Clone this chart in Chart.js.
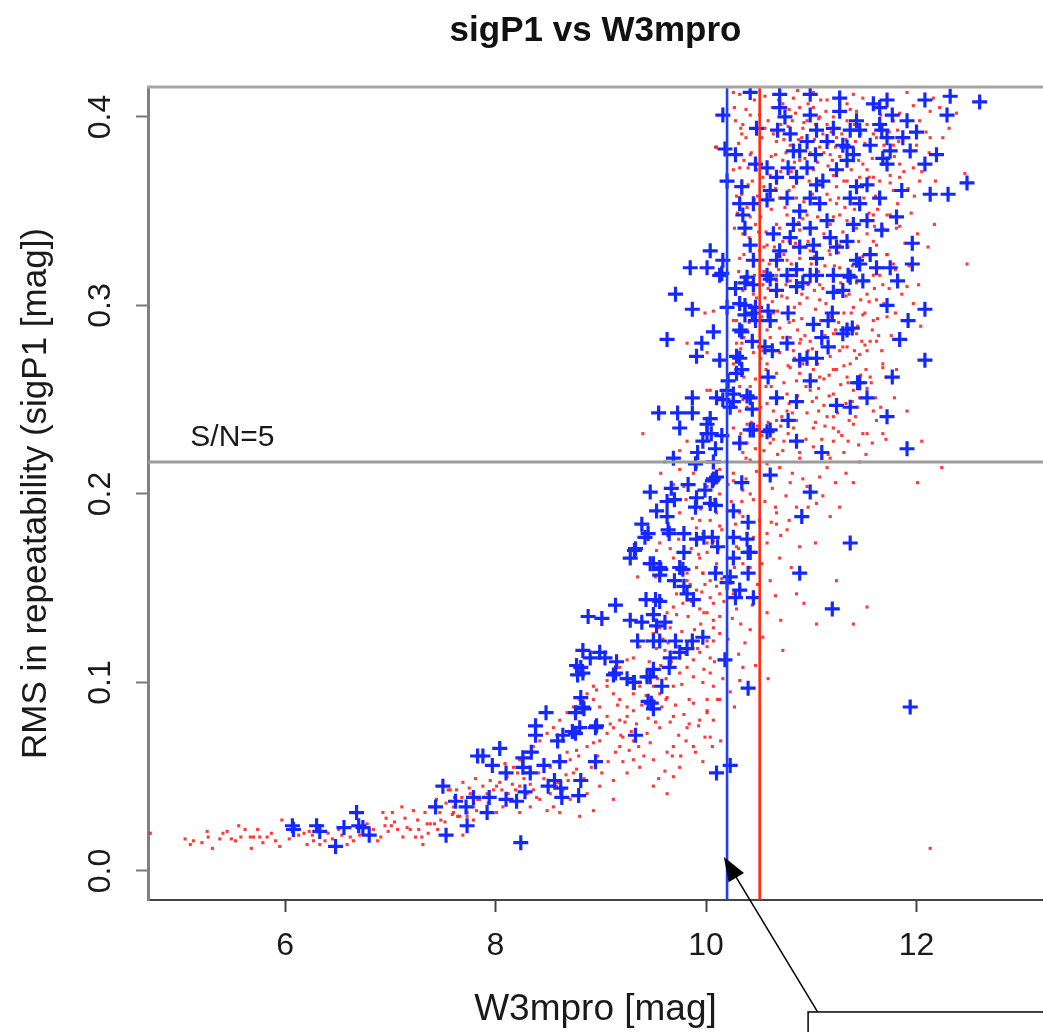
<!DOCTYPE html>
<html>
<head>
<meta charset="utf-8">
<title>sigP1 vs W3mpro</title>
<script src="https://cdn.jsdelivr.net/npm/chart.js@4.4.1/dist/chart.umd.min.js"></script>
<style>
    html, body { margin: 0; padding: 0; background: #ffffff; overflow: hidden; }
    #grafico { display: block; }
</style>
</head>
<body>
<canvas id="grafico" width="1043" height="1032"></canvas>
<script>
"use strict";

/********************************************************************
 * Dados (W3mpro [mag], sigP1 [mag])
 ********************************************************************/

// cruzes azuis
const pontosAzuis = [
    [6.07,0.024],[6.08,0.022],[6.30,0.024],[6.33,0.021],[6.48,0.013],[6.56,0.023],[6.68,0.031],[6.70,0.024],[6.74,0.023],[6.80,0.019],
    [7.50,0.045],[7.43,0.034],[7.62,0.037],[7.72,0.034],[7.79,0.039],[7.73,0.024],[7.53,0.019],[7.83,0.061],[7.94,0.039],[7.92,0.031],
    [8.10,0.038],[8.20,0.037],[8.28,0.042],[8.24,0.015],[8.62,0.044],[8.79,0.040],[7.88,0.061],[8.04,0.065],[7.97,0.056],[8.10,0.052],
    [8.26,0.060],[8.34,0.063],[8.46,0.056],[8.61,0.058],[8.56,0.048],[8.50,0.045],[8.81,0.048],[8.95,0.058],[8.48,0.084],[8.38,0.077],
    [8.38,0.072],[8.59,0.069],[8.76,0.073],[8.95,0.076],[9.33,0.072],[8.81,0.108],[8.83,0.105],[8.99,0.116],[9.15,0.111],[9.14,0.105],
    [9.32,0.100],[9.47,0.103],[9.65,0.108],[8.81,0.092],[8.84,0.086],[9.48,0.089],[9.14,0.141],[8.88,0.135],[9.01,0.134],[9.28,0.133],
    [9.43,0.144],[9.52,0.144],[9.53,0.130],[9.35,0.122],[9.50,0.122],[9.71,0.122],[9.87,0.122],[9.97,0.124],[9.56,0.143],[9.39,0.132],
    [9.50,0.136],[9.61,0.132],[9.56,0.122],[9.82,0.118],[9.66,0.113],[9.75,0.116],[8.83,0.117],[8.90,0.113],[9.04,0.113],[8.77,0.109],
    [8.78,0.104],[9.12,0.104],[9.25,0.102],[9.31,0.100],[9.44,0.103],[9.50,0.107],[9.58,0.098],[9.45,0.090],[9.50,0.086],[8.83,0.087],
    [8.76,0.084],[8.64,0.072],[8.73,0.074],[8.80,0.076],[8.96,0.077],[8.26,0.055],[8.33,0.052],[8.63,0.039],
    [10.10,0.052],[10.23,0.056],[10.18,0.112],[10.20,0.153],[10.09,0.158],[10.28,0.145],[9.78,0.160],[9.88,0.144],[9.82,0.147],[9.47,0.163],[9.56,0.161],
    [9.55,0.243],[9.73,0.243],[9.87,0.243],[9.75,0.235],[10.01,0.237],[9.97,0.228],[10.05,0.232],[10.09,0.224],[9.69,0.219],[9.90,0.216],
    [9.47,0.201],[9.67,0.203],[9.83,0.205],[9.99,0.202],[9.70,0.197],[9.90,0.193],[10.09,0.194],[9.39,0.184],[9.45,0.179],[9.65,0.179],
    [9.79,0.179],[9.32,0.170],[9.28,0.166],[9.50,0.163],[9.57,0.160],[9.70,0.154],[9.79,0.151],[9.75,0.161],
    [9.71,0.306],[9.87,0.298],[9.63,0.282],[9.96,0.280],[9.91,0.273],[10.07,0.286],[10.20,0.299],[10.32,0.287],[10.37,0.300],[10.44,0.296],
    [10.44,0.281],[10.13,0.271],[10.29,0.273],[10.34,0.266],[10.21,0.260],[10.20,0.255],[9.87,0.251],[10.10,0.251],[10.16,0.250],[10.26,0.249],
    [10.04,0.240],[9.92,0.222],[10.15,0.231],[10.32,0.227],[10.44,0.245],[10.42,0.234],[10.39,0.252],[10.06,0.207],[10.10,0.209],[10.34,0.206],
    [9.63,0.196],[9.53,0.191],[9.63,0.188],[9.91,0.198],[9.42,0.177],[9.64,0.181],[9.91,0.176],[10.06,0.177],[10.26,0.177],[10.39,0.176],
    [9.33,0.171],[9.79,0.169],[10.11,0.172],[10.26,0.166],[10.42,0.169],[9.56,0.157],[9.85,0.320],
    [10.16,0.401],[10.18,0.383],[10.28,0.380],[10.20,0.366],[10.04,0.329],[10.16,0.324],[10.01,0.320],[10.15,0.317],[10.32,0.354],[10.35,0.348],
    [10.37,0.341],[10.45,0.354],[10.42,0.332],[10.45,0.324],[10.39,0.315],[10.34,0.363],[10.48,0.394],[10.42,0.413],[10.47,0.375],[10.58,0.373],
    [10.61,0.361],[10.58,0.356],[10.67,0.368],[10.64,0.338],[10.70,0.329],[10.67,0.324],[10.61,0.314],[10.70,0.412],[10.70,0.405],[10.75,0.400],
    [10.80,0.391],[10.68,0.393],[10.83,0.382],[10.78,0.373],[10.86,0.368],[10.89,0.382],[10.77,0.357],[10.89,0.350],[10.83,0.343],[10.80,0.336],
    [10.89,0.331],[10.86,0.319],[10.99,0.412],[10.99,0.401],[11.05,0.393],[10.96,0.387],[11.04,0.380],[10.96,0.373],[11.05,0.364],[11.11,0.366],
    [10.99,0.357],[11.08,0.354],[10.99,0.341],[11.02,0.332],[11.05,0.325],[10.99,0.316],[11.15,0.345],[11.18,0.336],[11.21,0.316],[11.27,0.410],
    [11.27,0.403],[11.21,0.394],[11.15,0.387],[11.30,0.385],[11.34,0.377],[11.24,0.372],[11.37,0.393],[11.43,0.398],[11.40,0.380],[11.43,0.363],
    [11.37,0.357],[11.46,0.354],[11.40,0.343],[11.34,0.334],[11.24,0.331],[11.43,0.324],[11.49,0.313],[11.53,0.364],[11.56,0.385],[11.59,0.407],
    [11.65,0.405],[11.72,0.409],[11.65,0.396],[11.72,0.389],[11.75,0.382],[11.68,0.378],[11.72,0.375],[11.65,0.357],[11.53,0.345],[11.56,0.327],
    [11.62,0.320],[11.75,0.320],[11.77,0.401],
    [12.08,0.409],[12.32,0.411],[12.60,0.408],[12.29,0.401],[11.91,0.398],[12.00,0.392],[11.87,0.389],[11.94,0.382],[12.19,0.380],[12.08,0.375],
    [12.48,0.365],[12.13,0.359],[12.30,0.359],[11.86,0.361],[11.81,0.347],[11.67,0.340],[11.96,0.333],[11.46,0.322],[11.96,0.322],[11.35,0.316],
    [11.82,0.313],[11.30,0.308],[11.72,0.300],[12.08,0.298],[11.92,0.292],[11.39,0.288],[11.30,0.285],[11.84,0.282],[12.08,0.271],[11.44,0.259],
    [11.77,0.262],[11.67,0.393],[11.46,0.393],[11.34,0.384],
    [10.13,0.316],[10.28,0.309],[10.37,0.312],[10.45,0.311],[10.58,0.316],[10.67,0.308],[10.77,0.316],[10.86,0.310],[10.92,0.312],[11.05,0.316],
    [11.21,0.307],[11.37,0.315],[10.32,0.301],[10.47,0.299],[10.59,0.297],[10.78,0.296],[10.37,0.295],[10.47,0.292],[10.61,0.292],[11.02,0.290],
    [11.16,0.292],[11.20,0.296],[11.34,0.287],[10.34,0.286],[10.56,0.278],[10.63,0.276],[10.77,0.280],[10.89,0.271],[10.96,0.272],[11.05,0.272],
    [11.10,0.283],[11.16,0.278],[10.32,0.272],[10.29,0.264],[10.59,0.262],[10.99,0.260],[11.46,0.259],[10.26,0.253],[10.42,0.251],[10.67,0.251],
    [10.86,0.249],[11.24,0.247],[11.37,0.246],[11.53,0.251],[11.72,0.241],[10.23,0.246],[10.01,0.232],[10.45,0.234],[10.61,0.234],[10.78,0.239],
    [10.86,0.228],[11.10,0.222],[10.07,0.217],
    [11.91,0.224],[10.58,0.233],[10.07,0.208],[10.61,0.210],[10.99,0.201],[10.04,0.195],[10.26,0.191],[10.40,0.185],[10.91,0.188],[9.98,0.177],
    [10.40,0.169],[11.37,0.174],[10.23,0.156],[10.40,0.158],[10.89,0.158],[10.32,0.149],[10.45,0.145],[11.20,0.139],[10.40,0.097],[11.94,0.087]
];

// pontos vermelhos
const pontosVermelhos = [
    [4.72,0.020],[5.05,0.017],[5.10,0.014],[5.13,0.016],[5.26,0.021],[5.27,0.018],[5.31,0.012],[5.38,0.017],[5.45,0.021],[5.49,0.017],
    [5.56,0.024],[5.58,0.018],[5.62,0.022],[5.67,0.018],[5.68,0.012],[5.70,0.018],[5.76,0.018],[5.83,0.018],[5.79,0.015],[5.91,0.016],
    [5.95,0.013],[5.97,0.027],[6.13,0.019],[6.18,0.020],[6.21,0.014],[6.26,0.019],[6.33,0.014],[6.38,0.016],[6.45,0.017],[6.54,0.019],
    [6.62,0.018],[6.65,0.016],[6.78,0.025],[6.84,0.022],[6.88,0.016],[6.93,0.031],[6.95,0.024],[6.98,0.021],[7.02,0.031],[7.04,0.026],
    [7.07,0.022],[7.11,0.034],[7.12,0.018],[7.16,0.023],[7.19,0.022],[7.22,0.032],[7.24,0.018],[7.27,0.022],[7.30,0.018],[7.31,0.014],
    [7.35,0.025],[7.38,0.025],[7.42,0.025],[7.44,0.038],[7.45,0.022],[7.52,0.026],[7.55,0.043],[7.59,0.030],[7.60,0.034],[7.63,0.043],
    [7.64,0.029],[7.68,0.039],[7.69,0.019],[7.73,0.029],[7.79,0.027],[7.82,0.032],[7.83,0.038],[12.13,0.012],
    [5.21,0.015],[5.41,0.020],[5.53,0.016],[5.74,0.022],[5.87,0.020],[6.04,0.017],[6.09,0.023],[6.23,0.021],[6.41,0.020],[6.51,0.022],
    [6.59,0.014],[6.71,0.019],[6.91,0.018],[7.01,0.024],[7.14,0.028],[7.26,0.027],[7.36,0.020],[7.48,0.027],[6.27,0.016],[6.96,0.028],
    [7.95,0.048],[8.01,0.045],[8.06,0.043],[8.12,0.041],[8.19,0.043],[8.23,0.045],[8.30,0.041],[8.36,0.043],[8.39,0.039],[8.42,0.038],
    [8.52,0.041],[8.58,0.045],[8.64,0.043],[8.69,0.048],[8.74,0.052],[8.77,0.054],[8.71,0.059],[8.68,0.063],[8.77,0.064],[8.87,0.066],
    [8.93,0.068],[8.99,0.069],[9.06,0.073],[9.12,0.076],[9.18,0.080],[9.25,0.082],[9.31,0.085],[9.06,0.082],[8.99,0.087],[8.93,0.091],
    [8.96,0.096],[9.06,0.098],[9.12,0.094],[9.18,0.091],[9.25,0.087],[9.31,0.094],[9.37,0.098],[9.44,0.101],[9.50,0.098],[9.56,0.094],
    [9.63,0.092],[9.69,0.098],[9.75,0.105],[9.82,0.108],[9.88,0.112],[9.94,0.116],[10.01,0.119],[10.07,0.122],[10.13,0.126],[10.07,0.133],
    [10.01,0.137],[10.07,0.142],[10.13,0.147],[10.10,0.151],[10.04,0.154],[9.97,0.158],[9.91,0.161],[9.82,0.154],[9.72,0.147],[9.69,0.140],
    [9.63,0.137],[9.56,0.129],[9.50,0.126],[9.44,0.122],[9.37,0.119],[9.31,0.113],[9.25,0.112],[9.18,0.108],[9.12,0.105],[9.06,0.101],
    [8.93,0.098],[8.87,0.094],[8.80,0.091],[8.74,0.087],[8.68,0.084],[8.61,0.080],[8.55,0.076],[8.49,0.073],[8.42,0.069],[8.36,0.066],
    [8.30,0.063],[8.23,0.059],[8.17,0.055],[8.11,0.050],[8.04,0.047],[7.98,0.043],[7.92,0.041],[7.85,0.038],[7.79,0.034],[7.73,0.031],
    [7.66,0.029],[7.60,0.031],[7.57,0.043],[7.76,0.041],[8.07,0.034],[8.33,0.034],[8.55,0.034],[8.71,0.038],[8.87,0.041],[8.99,0.045],
    [9.12,0.048],[9.25,0.052],[9.37,0.055],[9.50,0.059],[9.63,0.063],[9.69,0.066],[9.82,0.076],[9.94,0.080],[10.01,0.084],[9.18,0.066],
    [9.31,0.069],[9.44,0.073],[9.56,0.076],[9.69,0.082],[9.88,0.089],[9.97,0.100],[10.04,0.105],[10.13,0.112],[9.31,0.059],[9.69,0.050],
    [9.75,0.055],[9.88,0.066],[9.50,0.045],[9.63,0.041],[9.12,0.038],[8.93,0.032],[8.80,0.029],[8.61,0.031],[8.49,0.032],[8.23,0.031],[8.01,0.031],
    [9.41,0.061],[9.47,0.068],[9.52,0.079],[9.58,0.087],[9.62,0.102],[9.67,0.111],[9.72,0.119],[9.77,0.127],[9.83,0.135],[9.86,0.143],
    [9.91,0.149],[9.95,0.131],[9.92,0.118],[9.88,0.103],[9.84,0.091],[9.79,0.083],[9.74,0.072],[9.68,0.061],[9.61,0.053],[9.55,0.049],
    [9.21,0.058],[9.27,0.064],[9.34,0.078],[9.39,0.088],[9.43,0.093],[9.46,0.111],[9.53,0.118],[9.59,0.123],[9.66,0.129],[9.72,0.136],
    [9.78,0.142],[9.85,0.152],[9.93,0.168],[9.97,0.179],[10.04,0.186],[10.08,0.197],[9.87,0.187],[9.81,0.197],[9.69,0.205],[9.57,0.211],
    [9.01,0.052],[9.07,0.058],[9.14,0.063],[9.21,0.071],[9.16,0.088],[9.09,0.078],[8.97,0.061],[8.91,0.055],[8.84,0.049],[8.79,0.061],
    [8.67,0.051],[8.59,0.047],[8.52,0.055],[8.46,0.049],[8.41,0.052],[8.33,0.046],[8.27,0.049],[8.21,0.052],[8.16,0.046],[8.09,0.057],
    [7.93,0.036],[7.88,0.045],[7.81,0.049],[7.75,0.044],[7.69,0.047],[7.61,0.039],[7.53,0.036],[7.47,0.031],[7.39,0.034],[7.33,0.031],
    [10.12,0.171],[10.15,0.181],[10.17,0.143],[10.16,0.102],[10.11,0.091],[10.14,0.069],[10.06,0.066],[9.99,0.071],[9.93,0.077],[9.97,0.058],
    [9.62,0.091],[9.66,0.079],[9.71,0.088],[9.77,0.099],[9.81,0.115],[9.85,0.122],[9.89,0.128],[9.94,0.139],[9.96,0.148],[9.99,0.152],
    [9.45,0.081],[9.49,0.091],[9.54,0.102],[9.57,0.109],[9.61,0.117],[9.64,0.121],[9.36,0.066],[9.29,0.074],[9.23,0.079],[9.19,0.072],
    [9.86,0.171],[9.91,0.182],[9.95,0.192],[10.03,0.207],[9.88,0.211],[9.79,0.204],[9.74,0.176],[9.66,0.171],[9.61,0.161],[9.52,0.156],
    [10.13,0.183],[10.15,0.155],[10.13,0.135],[10.08,0.111],[10.13,0.091],[10.04,0.071],[9.90,0.063],[9.81,0.069],[9.76,0.061],[9.84,0.078],
    [10.35,0.250],[10.58,0.248],[10.77,0.253],[10.99,0.255],[11.15,0.241],[11.21,0.235],[11.02,0.225],[11.18,0.219],[10.89,0.219],[10.73,0.223],
    [11.46,0.217],[11.49,0.232],[11.62,0.239],[11.91,0.244],[12.05,0.228],[12.24,0.214],[12.01,0.206],[11.40,0.206],[11.23,0.206],[11.15,0.214],
    [11.08,0.209],[10.96,0.204],[10.80,0.206],[10.70,0.214],[10.58,0.216],[10.42,0.218],[10.67,0.190],[10.77,0.181],[10.89,0.172],[10.86,0.193],
    [11.05,0.195],[11.18,0.188],[11.04,0.174],[11.24,0.154],[11.53,0.140],[11.40,0.131],[11.05,0.131],[10.86,0.147],[10.73,0.117],[10.58,0.137],
    [10.42,0.128],[10.61,0.154],[10.70,0.166],[10.58,0.174],[10.51,0.186],[10.35,0.188],[10.35,0.163],[10.26,0.147],[10.35,0.108],[10.32,0.101],
    [10.07,0.080],[10.01,0.085],[10.01,0.091],[10.07,0.098],[9.98,0.107],[10.04,0.113],[10.01,0.122],[10.07,0.129],[9.98,0.137],[10.04,0.145],
    [10.10,0.161],[10.01,0.169],[10.07,0.175],[10.32,0.177],[10.45,0.177],[10.45,0.197],[10.35,0.202],[10.26,0.207],[10.13,0.213],[10.67,0.184],[10.58,0.179],
    [10.21,0.205],[10.24,0.196],[10.28,0.184],[10.31,0.171],[10.27,0.161],[10.24,0.153],[10.29,0.139],[10.33,0.131],[10.37,0.121],[10.31,0.115],
    [10.44,0.141],[10.49,0.152],[10.53,0.163],[10.56,0.196],[10.63,0.203],[10.66,0.193],[10.71,0.178],[10.76,0.199],[10.82,0.211],[10.92,0.208],
    [10.97,0.193],[11.11,0.199],[11.27,0.193],[10.48,0.212],[10.38,0.208],[10.81,0.161],[10.93,0.142],[10.47,0.109],[10.54,0.124],[10.66,0.146],
    [10.23,0.095],[10.27,0.087],[10.21,0.123],[10.25,0.134],[10.34,0.196],[10.62,0.185],[10.79,0.186],[11.33,0.211],[10.71,0.133],[10.59,0.102],
    [9.82,0.280],[9.99,0.296],[10.01,0.255],[9.40,0.232],[9.82,0.228],[9.75,0.223],[9.61,0.217],[9.75,0.213],[9.91,0.214],[10.07,0.214],
    [10.01,0.204],[10.13,0.200],[9.75,0.190],[9.94,0.186],[10.10,0.190],[9.82,0.179],[10.01,0.174],[9.56,0.174],[9.53,0.170],[9.69,0.166],
    [9.94,0.166],[10.10,0.163],[9.35,0.156],[9.82,0.158],[9.97,0.158],[10.32,0.257],[10.39,0.237],[10.35,0.222],[10.26,0.211],[10.42,0.200],
    [10.32,0.190],[10.39,0.179],[10.29,0.172],[10.42,0.161],[10.26,0.269],[10.34,0.280],[10.29,0.292],
    [10.26,0.413],[10.56,0.411],[10.63,0.405],[10.59,0.398],[10.53,0.389],[10.42,0.380],[10.40,0.373],[10.32,0.373],[10.54,0.368],[10.66,0.380],
    [10.73,0.377],[10.82,0.398],[10.89,0.405],[10.92,0.394],[10.96,0.398],[11.04,0.396],[11.08,0.400],[11.15,0.396],[11.21,0.400],[11.34,0.407],
    [11.40,0.412],[11.49,0.410],[11.43,0.403],[11.53,0.396],[11.59,0.391],[11.49,0.375],[11.53,0.372],[11.59,0.368],[11.46,0.368],[11.34,0.366],
    [11.24,0.363],[11.15,0.359],[11.18,0.356],[11.24,0.354],[11.27,0.348],[11.21,0.347],[11.34,0.345],[11.43,0.341],[11.53,0.338],[11.59,0.334],
    [11.68,0.341],[11.72,0.348],[11.65,0.366],[11.75,0.369],[11.78,0.361],[11.81,0.341],[11.27,0.332],[11.18,0.327],[11.08,0.332],[10.99,0.329],
    [10.89,0.325],[10.83,0.331],[10.77,0.324],[10.73,0.334],[10.67,0.343],[10.77,0.348],[10.70,0.357],[10.83,0.363],[10.92,0.368],[11.02,0.372],
    [10.89,0.377],[10.80,0.385],[11.08,0.384],[11.18,0.380],[11.24,0.389],[11.34,0.398],[11.02,0.405],[11.15,0.409],[10.83,0.410],[10.73,0.407],
    [10.96,0.348],[11.05,0.341],[10.89,0.340],[10.58,0.332],[10.54,0.324],[10.67,0.316],[10.80,0.313],[11.05,0.315],[11.27,0.320],[11.37,0.316],
    [11.53,0.313],[11.72,0.327],[11.65,0.316],[10.32,0.325],[10.35,0.338],[10.42,0.347],[10.26,0.372],[10.10,0.384],[10.34,0.391],[10.42,0.401],[10.32,0.412],
    [11.91,0.413],[11.97,0.406],[12.16,0.410],[12.13,0.403],[11.84,0.402],[11.78,0.398],[11.82,0.393],[11.78,0.385],[12.00,0.385],[12.03,0.398],
    [12.13,0.389],[12.22,0.405],[11.84,0.375],[11.97,0.373],[11.84,0.368],[11.75,0.365],[12.03,0.366],[12.46,0.370],[11.82,0.354],[11.75,0.348],
    [11.65,0.354],[11.59,0.348],[11.72,0.340],[12.01,0.338],[11.62,0.332],[11.72,0.327],[11.65,0.320],[11.80,0.319],[11.59,0.316],[11.68,0.311],
    [11.91,0.310],[11.53,0.306],[11.62,0.303],[11.49,0.295],[11.59,0.292],[11.72,0.294],[11.43,0.285],[11.56,0.281],[11.34,0.278],[11.46,0.274],
    [11.68,0.269],[11.37,0.269],[11.56,0.262],[11.81,0.266],[12.48,0.322],[11.40,0.299],
    [10.77,0.304],[10.89,0.301],[10.96,0.304],[11.08,0.303],[10.83,0.292],[10.70,0.288],[10.80,0.283],[10.89,0.280],[10.99,0.281],[11.21,0.285],
    [11.30,0.278],[11.43,0.272],[11.53,0.276],[11.62,0.281],[11.68,0.267],[10.70,0.275],[10.80,0.267],[10.67,0.264],[10.86,0.260],[11.08,0.262],
    [11.21,0.266],[11.34,0.262],[11.40,0.255],[11.21,0.253],[11.05,0.251],[10.96,0.243],[10.77,0.244],[10.67,0.239],[10.83,0.235],[11.02,0.235],
    [11.21,0.241],[11.40,0.237],[11.59,0.244],[11.53,0.232],[11.68,0.232],[10.61,0.227],[10.89,0.222],[10.39,0.227],[10.32,0.244],[10.26,0.235],
    [10.42,0.257],[10.58,0.269],[10.54,0.276],[10.45,0.275],[10.39,0.287],[10.58,0.287],[10.64,0.296],[10.56,0.304],[10.67,0.313],[10.45,0.306],
    [10.35,0.308],[10.26,0.292],[10.29,0.280],[10.07,0.297],[10.04,0.255],[10.01,0.275],[10.09,0.384],
    [10.28,0.398],[10.31,0.386],[10.36,0.377],[10.44,0.366],[10.49,0.358],[10.52,0.347],[10.57,0.339],[10.62,0.351],[10.66,0.362],[10.71,0.371],
    [10.74,0.388],[10.78,0.395],[10.85,0.402],[10.91,0.389],[10.94,0.378],[10.98,0.366],[11.01,0.359],[11.06,0.347],[11.12,0.338],[11.17,0.329],
    [11.22,0.321],[11.28,0.312],[11.33,0.305],[11.38,0.296],[11.44,0.289],[11.48,0.281],[11.52,0.266],[11.57,0.259],[11.61,0.251],[11.66,0.246],
    [10.31,0.318],[10.36,0.327],[10.41,0.336],[10.47,0.343],[10.51,0.329],[10.55,0.318],[10.59,0.309],[10.63,0.302],[10.68,0.297],[10.72,0.305],
    [10.76,0.311],[10.81,0.322],[10.85,0.333],[10.88,0.344],[10.93,0.355],[10.97,0.334],[11.03,0.326],[11.07,0.318],[11.11,0.309],[11.14,0.301],
    [11.19,0.294],[11.23,0.287],[11.27,0.276],[11.31,0.268],[11.35,0.259],[11.39,0.249],[11.42,0.241],[11.45,0.226],[11.29,0.231],[11.25,0.243],
    [11.17,0.252],[11.12,0.261],[11.06,0.269],[11.01,0.277],[10.94,0.284],[10.91,0.293],[10.87,0.287],[10.83,0.276],[10.78,0.268],[10.74,0.259],
    [10.69,0.251],[10.64,0.244],[10.59,0.238],[10.53,0.231],[10.47,0.224],[10.43,0.238],[10.39,0.246],[10.36,0.262],[10.33,0.277],[10.29,0.301],
    [11.58,0.378],[11.62,0.389],[11.66,0.401],[11.69,0.385],[11.74,0.392],[11.79,0.379],[11.83,0.387],[11.88,0.371],[11.92,0.362],[11.95,0.349],
    [11.61,0.358],[11.55,0.349],[11.51,0.386],[11.47,0.391],[11.42,0.387],[11.38,0.372],[11.31,0.366],[11.27,0.379],[11.23,0.384],[11.19,0.392],
    [11.14,0.403],[11.09,0.409],[11.03,0.388],[10.99,0.381],[10.94,0.412],[10.87,0.414],[10.79,0.404],[10.71,0.396],[10.67,0.387],[10.62,0.379],
    [10.56,0.394],[10.51,0.401],[10.46,0.409],[10.38,0.404],[10.35,0.396],[10.29,0.358],[10.27,0.341],[10.39,0.352],[10.46,0.316],[10.53,0.294],
    [10.61,0.283],[10.66,0.276],[10.73,0.283],[10.79,0.291],[10.84,0.299],[10.91,0.306],[10.97,0.311],[11.04,0.298],[11.09,0.292],[11.13,0.284],
    [11.18,0.273],[11.24,0.266],[11.28,0.258],[11.33,0.248],[11.36,0.239],[11.31,0.222],[11.21,0.228],[11.13,0.236],[11.07,0.244],[11.01,0.249],
    [10.95,0.257],[10.89,0.264],[10.84,0.272],[10.74,0.228],[10.68,0.221],[10.63,0.262],[10.57,0.257],[10.52,0.246],[10.47,0.261],[10.44,0.283],
    [11.49,0.326],[11.45,0.334],[11.41,0.351],[11.36,0.343],[11.32,0.352],[11.26,0.357],[11.21,0.369],[11.16,0.374],[11.12,0.381],[11.06,0.376],
    [11.84,0.342],[11.89,0.333],[11.78,0.322],[11.74,0.309],[11.69,0.301],[11.63,0.293],[11.58,0.287],[11.51,0.279],[11.47,0.263],[11.53,0.256],
    [11.98,0.358],[12.05,0.371],[12.09,0.392],[12.12,0.381],[12.18,0.366],[12.25,0.389],[12.31,0.394],[12.38,0.402],[11.93,0.321],[12.02,0.311],
    [10.27,0.405],[10.33,0.394],[10.38,0.389],[10.43,0.381],[10.48,0.372],[10.55,0.363],[10.61,0.369],[10.64,0.391],[10.69,0.409],[10.76,0.381],
    [10.81,0.371],[10.86,0.357],[10.92,0.346],[10.95,0.331],[11.00,0.322],[11.03,0.308],[11.08,0.311],[11.13,0.321],[11.18,0.343],[11.22,0.336],
    [11.26,0.328],[11.30,0.339],[11.35,0.331],[11.39,0.321],[11.43,0.312],[11.47,0.303],[11.51,0.296],[11.55,0.302],[11.60,0.309],[11.64,0.284],
    [11.67,0.276],[11.71,0.262],[11.76,0.284],[11.80,0.296],[11.86,0.306],[11.90,0.292],[11.97,0.301],[12.04,0.289],[12.11,0.331],[12.17,0.343],
    [10.30,0.349],[10.34,0.359],[10.40,0.364],[10.46,0.356],[10.50,0.339],[10.55,0.331],[10.60,0.322],[10.65,0.331],[10.70,0.341],[10.75,0.352],
    [10.79,0.361],[10.84,0.376],[10.88,0.388],[10.93,0.397],[10.97,0.407],[11.02,0.413],[11.07,0.399],[11.11,0.391],[11.16,0.386],[11.20,0.377],
    [11.25,0.372],[11.29,0.391],[11.33,0.388],[11.37,0.404],[11.41,0.396],[11.45,0.377],[11.50,0.357],[11.55,0.368],[11.60,0.342],[11.63,0.351],
    [10.52,0.272],[10.57,0.266],[10.62,0.257],[10.67,0.249],[10.72,0.241],[10.78,0.232],[10.82,0.243],[10.87,0.252],[10.92,0.269],[10.97,0.276],
    [11.02,0.266],[11.07,0.256],[11.12,0.247],[11.17,0.263],[11.22,0.278],[11.26,0.291],[11.31,0.296],[11.36,0.306],[11.41,0.276],[11.46,0.251],
    [10.36,0.283],[10.41,0.291],[10.48,0.304],[10.54,0.311],[10.60,0.316],[10.69,0.319],[10.74,0.327],[10.79,0.334],[10.85,0.316],[10.90,0.282],
    [10.33,0.232],[10.38,0.219],[10.45,0.251],[10.49,0.236],[10.55,0.223],[10.64,0.229],[10.71,0.236],[10.79,0.248],[10.86,0.239],[10.95,0.229],
    [11.04,0.238],[11.10,0.229],[11.16,0.221],[11.26,0.233],[11.35,0.228],[11.44,0.246],[11.52,0.221],[11.58,0.227],[11.71,0.229],[11.79,0.251]
];

// eixos
const ticksX = [6, 8, 10, 12];
const ticksY = [0, 0.1, 0.2, 0.3, 0.4];
const rotulosY = ["0.0", "0.1", "0.2", "0.3", "0.4"];

// linhas de referência
const nivelSN = 0.217;
const corteAzul = 10.20;
const corteVermelho = 10.51;

// seta e caixa da anotação (unidades dos eixos)
const setaPonta = [10.17, 0.0074];
const setaBase = [11.06, -0.0748];
const caixaCanto = [10.97, -0.0748];

const fonte = "'Liberation Sans', Arial, Helvetica, sans-serif";

/********************************************************************
 * Plugin: moldura, linhas, textos e anotação
 ********************************************************************/
const extras = {

    id: "extras",

    afterDatasetsDraw(chart) {

        const { ctx, chartArea: a, scales: { x, y } } = chart;

        ctx.save();

        // linha horizontal S/N=5
        const yh = y.getPixelForValue(nivelSN);
        ctx.strokeStyle = "#9c9c9c";
        ctx.lineWidth = 3;
        ctx.beginPath();
        ctx.moveTo(a.left, yh);
        ctx.lineTo(a.right, yh);
        ctx.stroke();

        // linhas verticais
        const xa = x.getPixelForValue(corteAzul);
        ctx.strokeStyle = "#1f3cff";
        ctx.lineWidth = 2.6;
        ctx.beginPath();
        ctx.moveTo(xa, a.top);
        ctx.lineTo(xa, a.bottom);
        ctx.stroke();

        const xv = x.getPixelForValue(corteVermelho);
        ctx.strokeStyle = "#ff2a10";
        ctx.beginPath();
        ctx.moveTo(xv, a.top);
        ctx.lineTo(xv, a.bottom);
        ctx.stroke();

        // borda superior
        ctx.strokeStyle = "#a6a6a6";
        ctx.lineWidth = 3;
        ctx.beginPath();
        ctx.moveTo(a.left - 1, a.top);
        ctx.lineTo(a.right, a.top);
        ctx.stroke();

        // texto S/N=5
        ctx.fillStyle = "#1a1a1a";
        ctx.font = "30px " + fonte;
        ctx.textAlign = "left";
        ctx.textBaseline = "middle";
        ctx.fillText("S/N=5", x.getPixelForValue(5.10), y.getPixelForValue(0.230));

        ctx.restore();

    },

    afterDraw(chart) {

        const { ctx, chartArea: a, scales: { x, y } } = chart;

        ctx.save();

        // título
        ctx.fillStyle = "#111111";
        ctx.font = "bold 35px " + fonte;
        ctx.textAlign = "center";
        ctx.textBaseline = "middle";
        ctx.fillText("sigP1 vs W3mpro", (a.left + a.right) / 2, 31);

        // caixa
        const cx = x.getPixelForValue(caixaCanto[0]);
        const cy = y.getPixelForValue(caixaCanto[1]);
        ctx.strokeStyle = "#000000";
        ctx.lineWidth = 1.5;
        ctx.strokeRect(cx, cy, 400, 200);

        // seta
        const px = x.getPixelForValue(setaPonta[0]);
        const py = y.getPixelForValue(setaPonta[1]);
        const bx = x.getPixelForValue(setaBase[0]);
        const by = y.getPixelForValue(setaBase[1]);
        const ang = Math.atan2(py - by, px - bx);
        const comp = 24;
        const larg = 9;

        ctx.beginPath();
        ctx.moveTo(bx, by);
        ctx.lineTo(px - Math.cos(ang) * comp * 0.8, py - Math.sin(ang) * comp * 0.8);
        ctx.lineWidth = 1.5;
        ctx.stroke();

        ctx.fillStyle = "#000000";
        ctx.beginPath();
        ctx.moveTo(px, py);
        ctx.lineTo(px - Math.cos(ang) * comp + Math.sin(ang) * larg, py - Math.sin(ang) * comp - Math.cos(ang) * larg);
        ctx.lineTo(px - Math.cos(ang) * comp - Math.sin(ang) * larg, py - Math.sin(ang) * comp + Math.cos(ang) * larg);
        ctx.closePath();
        ctx.fill();

        ctx.restore();

    }

};

/********************************************************************
 * Gráfico
 ********************************************************************/
const canvas = document.getElementById("grafico");

new Chart(canvas, {

    type: "scatter",

    data: {

        datasets: [

            {
                label: "azul",
                data: pontosAzuis.map(p => ({ x: p[0], y: p[1] })),
                pointStyle: "cross",
                pointRadius: 7.5,
                pointBorderWidth: 3.2,
                borderColor: "#1428ff",
                backgroundColor: "#1428ff"
            },

            {
                label: "vermelho",
                data: pontosVermelhos.map(p => ({ x: p[0], y: p[1] })),
                pointStyle: "rect",
                pointRadius: 2.2,
                pointBorderWidth: 0,
                borderColor: "rgba(255,30,30,0.88)",
                backgroundColor: "rgba(255,30,30,0.88)"
            }

        ]

    },

    options: {

        responsive: false,

        animation: false,

        events: [],

        layout: {

            autoPadding: false,

            padding: { top: 87, right: 0, bottom: 0, left: 0 }

        },

        plugins: {

            legend: { display: false },

            tooltip: { enabled: false }

        },

        scales: {

            x: {

                type: "linear",

                min: 4.698,

                max: 13.202,

                afterBuildTicks: s => { s.ticks = ticksX.map(v => ({ value: v })); },

                afterFit: s => { s.height = 132; },

                grid: { drawOnChartArea: false, drawTicks: true, tickLength: 12, tickColor: "#444444", tickWidth: 2 },

                border: { display: true, color: "#444444", width: 2 },

                ticks: {
                    font: { family: fonte, size: 32 },
                    color: "#1a1a1a",
                    padding: 15,
                    maxRotation: 0,
                    autoSkip: false
                },

                title: {
                    display: true,
                    text: "W3mpro [mag]",
                    font: { family: fonte, size: 37 },
                    color: "#1a1a1a",
                    padding: { top: 0, bottom: 0 }
                }

            },

            y: {

                type: "linear",

                min: -0.0154,

                max: 0.4159,

                afterBuildTicks: s => { s.ticks = ticksY.map(v => ({ value: v })); },

                afterFit: s => { s.width = 148; },

                grid: { drawOnChartArea: false, drawTicks: true, tickLength: 12, tickColor: "#777777", tickWidth: 2 },

                border: { display: true, color: "#808080", width: 3 },

                ticks: {
                    font: { family: fonte, size: 32 },
                    color: "#1a1a1a",
                    padding: 13,
                    minRotation: 90,
                    maxRotation: 90,
                    crossAlign: "center",
                    autoSkip: false,
                    callback: (v, i) => rotulosY[i]
                },

                title: {
                    display: true,
                    text: "RMS in repeatability (sigP1 [mag])",
                    font: { family: fonte, size: 35 },
                    color: "#1a1a1a",
                    padding: { top: 15, bottom: 15 }
                }

            }

        }

    },

    plugins: [extras]

});
</script>
</body>
</html>
